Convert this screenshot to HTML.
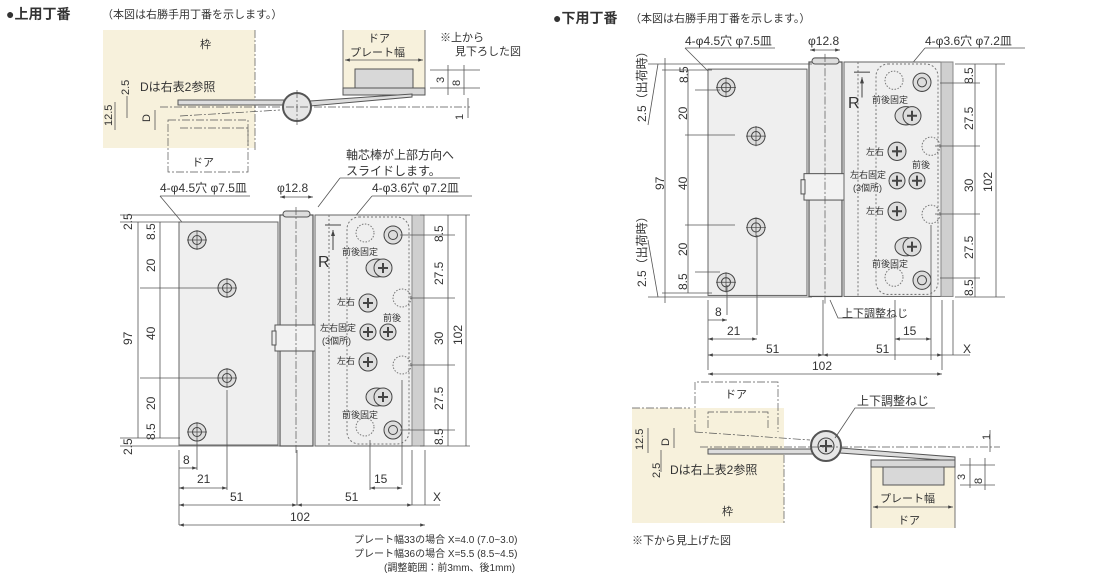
<!DOCTYPE html>
<html><head><meta charset="utf-8"><style>
body{margin:0;background:#fff;width:1096px;height:583px;overflow:hidden}
svg{display:block}
text{font-family:"Liberation Sans","Noto Sans CJK JP",sans-serif;fill:#333}
.s{font-size:11px}
.d{font-size:12px}
.ln{stroke:#555;stroke-width:0.8;fill:none}
.cl{stroke:#555;stroke-width:0.7;stroke-dasharray:8 2 2 2;fill:none}
</style></head><body>
<svg width="1096" height="583" viewBox="0 0 1096 583" xmlns="http://www.w3.org/2000/svg">
<defs>
<marker id="a" viewBox="0 0 6 6" refX="6" refY="3" markerWidth="6" markerHeight="6" orient="auto-start-reverse"><path d="M0,1 L6,3 L0,5z" fill="#444"/></marker>
<g id="hinge">
 <rect x="0" y="7" width="99" height="223" fill="#efefef" stroke="#666" stroke-width="1"/>
 <rect x="101" y="0" width="33" height="231" fill="#ececec" stroke="#555" stroke-width="1.2"/>
 <rect x="104" y="-4" width="27" height="6" rx="3" fill="#ddd" stroke="#555"/>
 <rect x="96" y="110" width="42" height="26" fill="#f2f2f2" stroke="#555"/>
 <rect x="93" y="116" width="4" height="14" fill="#eee" stroke="#555"/>
 <line x1="117" y1="-8" x2="117" y2="240" class="cl"/>
 <rect x="136" y="0" width="97" height="231" fill="#efefef" stroke="#666"/>
 <rect x="233" y="0" width="12" height="231" fill="#cfcfcf" stroke="#888"/>
 <line x1="150" y1="0" x2="150" y2="231" stroke="#777" stroke-dasharray="2 2"/>
 <rect x="168" y="2" width="62" height="227" rx="12" fill="none" stroke="#777" stroke-dasharray="2 2"/>
 <g fill="#ddd" stroke="#444">
  <circle cx="18" cy="25" r="9"/><circle cx="18" cy="25" r="4.5"/>
  <circle cx="48" cy="73" r="9"/><circle cx="48" cy="73" r="4.5"/>
  <circle cx="48" cy="163" r="9"/><circle cx="48" cy="163" r="4.5"/>
  <circle cx="18" cy="217" r="9"/><circle cx="18" cy="217" r="4.5"/>
  <circle cx="214" cy="20" r="9"/><circle cx="214" cy="20" r="4.5"/>
  <circle cx="214" cy="215" r="9"/><circle cx="214" cy="215" r="4.5"/>
  <ellipse cx="198" cy="53" rx="11" ry="9"/>
  <ellipse cx="198" cy="182" rx="11" ry="9"/>
  <circle cx="204" cy="53" r="9"/><circle cx="189" cy="88" r="9"/><circle cx="189" cy="117" r="8"/>
  <circle cx="209" cy="117" r="8"/><circle cx="189" cy="147" r="9"/><circle cx="204" cy="182" r="9"/>
 </g>
 <g stroke="#444" stroke-width="2">
  <path d="M199,53h10M204,48v10M184,88h10M189,83v10M184,117h10M189,112v10M204,117h10M209,112v10M184,147h10M189,142v10M199,182h10M204,177v10"/>
 </g>
 <g fill="none" stroke="#777" stroke-dasharray="1.5 1.5">
  <circle cx="186" cy="18" r="9"/><circle cx="223" cy="83" r="9"/><circle cx="223" cy="150" r="9"/><circle cx="186" cy="212" r="9"/>
 </g>
 <path d="M8,25h20M18,15v20M38,73h20M48,63v20M38,163h20M48,153v20M8,217h20M18,207v20" stroke="#444" stroke-width="0.7"/>
 <path d="M146,10h16" stroke="#444"/>
 <path d="M154,35v-20" stroke="#444" marker-end="url(#a)"/>
</g>
</defs>

<text x="6" y="19" style="font-size:14px;font-weight:bold">●上用丁番</text>
<text x="102" y="18" style="font-size:11px">（本図は右勝手用丁番を示します。）</text>
<text x="553" y="23" style="font-size:14px;font-weight:bold">●下用丁番</text>
<text x="630" y="22" style="font-size:11px">（本図は右勝手用丁番を示します。）</text>

<rect x="103" y="30" width="152" height="118" fill="#f7f1dc"/>
<line x1="255" y1="30" x2="255" y2="150" class="cl"/>
<text x="200" y="48" class="s">枠</text>
<text x="140" y="91" class="d">Dは右表2参照</text>
<rect x="343" y="30" width="82" height="63" fill="#f7f1dc"/>
<line x1="343" y1="30" x2="343" y2="93" class="ln"/><line x1="425" y1="30" x2="425" y2="93" class="ln"/>
<text x="368" y="42" class="s">ドア</text>
<text x="350" y="56" class="s">プレート幅</text>
<line x1="345" y1="60" x2="423" y2="60" class="ln" marker-start="url(#a)" marker-end="url(#a)"/>
<rect x="355" y="69" width="58" height="20" fill="#d8d8d8" stroke="#555"/>
<rect x="343" y="88" width="82" height="7" fill="#d8d8d8" stroke="#555"/>
<text x="440" y="41" class="s">※上から</text>
<text x="455" y="55" class="s">見下ろした図</text>
<rect x="178" y="100" width="106" height="5" fill="#ddd" stroke="#555"/>
<path d="M310,101 L412,94 L412,97 L310,106z" fill="#ddd" stroke="#555"/>
<circle cx="297" cy="107" r="14" fill="#e6e6e6" stroke="#555" stroke-width="2"/>
<line x1="160" y1="107" x2="470" y2="107" class="cl"/>
<line x1="297" y1="90" x2="297" y2="125" class="cl"/>
<path d="M168,120h80v52h-80z" class="cl"/>
<path d="M180,128h68v18" class="cl"/>
<path d="M180,116 L280,110" class="cl"/>
<text x="192" y="166" class="s">ドア</text>
<line x1="430" y1="70" x2="480" y2="70" class="ln"/><line x1="430" y1="88" x2="480" y2="88" class="ln"/>
<text x="0" y="0" class="s" transform="translate(444,83) rotate(-90)">3</text>
<text x="0" y="0" class="s" transform="translate(460,86) rotate(-90)">8</text>
<line x1="448" y1="65" x2="448" y2="95" class="ln"/><line x1="464" y1="65" x2="464" y2="95" class="ln"/>
<text x="0" y="0" class="s" transform="translate(463,120) rotate(-90)">1</text>
<line x1="468" y1="98" x2="468" y2="118" class="ln"/>
<text x="0" y="0" class="s" transform="translate(129,95) rotate(-90)">2.5</text>
<text x="0" y="0" class="s" transform="translate(112,126) rotate(-90)">12.5</text>
<text x="0" y="0" class="s" transform="translate(150,122) rotate(-90)">D</text>
<line x1="127" y1="96" x2="127" y2="118" class="ln"/>
<line x1="115" y1="102" x2="115" y2="130" class="ln"/>
<line x1="155" y1="110" x2="155" y2="130" class="ln"/>

<text x="346" y="159" class="d">軸芯棒が上部方向へ</text>
<text x="346" y="175" class="d">スライドします。</text>
<path d="M340,178h120M340,178 L318,207" class="ln"/>
<text x="160" y="192" class="d">4-φ4.5穴  φ7.5皿</text>
<path d="M160,196h90M160,196 L192,234" class="ln"/>
<text x="277" y="192" class="d">φ12.8</text>
<line x1="280" y1="197" x2="313" y2="197" class="ln" marker-start="url(#a)" marker-end="url(#a)"/>
<text x="372" y="192" class="d">4-φ3.6穴  φ7.2皿</text>
<path d="M372,196h100M372,196 L348,225" class="ln"/>
<use href="#hinge" x="179" y="215"/>
<text x="318" y="267" style="font-size:16px">R</text>
<g class="s" style="font-size:9px">
<text x="342" y="255">前後固定</text><text x="337" y="305">左右</text><text x="383" y="321">前後</text>
<text x="320" y="331">左右固定</text><text x="322" y="344">(3個所)</text><text x="337" y="364">左右</text><text x="342" y="418">前後固定</text>
</g>
<g class="d">
<text transform="translate(132,230) rotate(-90)">2.5</text>
<text transform="translate(155,240) rotate(-90)">8.5</text>
<text transform="translate(155,272) rotate(-90)">20</text>
<text transform="translate(132,345) rotate(-90)">97</text>
<text transform="translate(155,340) rotate(-90)">40</text>
<text transform="translate(155,410) rotate(-90)">20</text>
<text transform="translate(155,440) rotate(-90)">8.5</text>
<text transform="translate(132,455) rotate(-90)">2.5</text>
<text transform="translate(443,242) rotate(-90)">8.5</text>
<text transform="translate(443,285) rotate(-90)">27.5</text>
<text transform="translate(443,345) rotate(-90)">30</text>
<text transform="translate(462,345) rotate(-90)">102</text>
<text transform="translate(443,410) rotate(-90)">27.5</text>
<text transform="translate(443,445) rotate(-90)">8.5</text>
</g>
<path d="M120,215h160M120,222h60M120,438h60M120,446h160" class="ln"/>
<line x1="138" y1="222" x2="138" y2="438" class="ln"/>
<line x1="160" y1="222" x2="160" y2="438" class="ln"/>
<line x1="140" y1="288" x2="220" y2="288" class="ln"/><line x1="140" y1="378" x2="220" y2="378" class="ln"/>
<line x1="420" y1="215" x2="470" y2="215" class="ln"/><line x1="420" y1="446" x2="470" y2="446" class="ln"/>
<line x1="448" y1="215" x2="448" y2="446" class="ln"/><line x1="466" y1="215" x2="466" y2="446" class="ln"/>
<path d="M400,235h55M410,298h45M410,365h45M400,430h55" class="ln"/>
<path d="M179,450v75M197,440v30M227,390v100M297,450v55M412,450v55M425,450v55M370,440v50M402,380v105" class="ln"/>
<text x="183" y="464" class="d">8</text><line x1="179" y1="468" x2="197" y2="468" class="ln" marker-end="url(#a)"/>
<text x="197" y="483" class="d">21</text><line x1="179" y1="488" x2="227" y2="488" class="ln" marker-start="url(#a)" marker-end="url(#a)"/>
<text x="230" y="501" class="d">51</text><line x1="179" y1="505" x2="297" y2="505" class="ln" marker-start="url(#a)" marker-end="url(#a)"/>
<text x="345" y="501" class="d">51</text><line x1="297" y1="505" x2="412" y2="505" class="ln" marker-start="url(#a)" marker-end="url(#a)"/>
<text x="433" y="501" class="d">X</text><line x1="412" y1="505" x2="440" y2="505" class="ln"/>
<text x="374" y="483" class="d">15</text><line x1="370" y1="488" x2="402" y2="488" class="ln" marker-start="url(#a)" marker-end="url(#a)"/>
<text x="290" y="521" class="d">102</text><line x1="179" y1="525" x2="425" y2="525" class="ln" marker-start="url(#a)" marker-end="url(#a)"/>
<g style="font-size:10px"><text x="354" y="543">プレート幅33の場合 X=4.0 (7.0~3.0)</text>
<text x="354" y="557">プレート幅36の場合 X=5.5 (8.5~4.5)</text>
<text x="384" y="571">(調整範囲：前3mm、後1mm)</text></g>

<text x="685" y="45" class="d">4-φ4.5穴  φ7.5皿</text>
<path d="M685,48h90M685,48 L722,85" class="ln"/>
<text x="808" y="45" class="d">φ12.8</text>
<line x1="810" y1="50" x2="840" y2="50" class="ln" marker-start="url(#a)" marker-end="url(#a)"/>
<text x="925" y="45" class="d">4-φ3.6穴  φ7.2皿</text>
<path d="M925,48h100M925,48 L900,78" class="ln"/>
<use href="#hinge" transform="translate(708,62) scale(1,1.015)"/>
<text x="848" y="108" style="font-size:16px">R</text>
<g style="font-size:9px">
<text x="872" y="103">前後固定</text><text x="866" y="155">左右</text><text x="912" y="168">前後</text>
<text x="850" y="178">左右固定</text><text x="853" y="191">(3個所)</text><text x="866" y="214">左右</text><text x="872" y="267">前後固定</text>
</g>
<g class="d">
<text transform="translate(646,122) rotate(-90)">2.5（出荷時）</text>
<text transform="translate(646,287) rotate(-90)">2.5（出荷時）</text>
<text transform="translate(688,83) rotate(-90)">8.5</text>
<text transform="translate(687,120) rotate(-90)">20</text>
<text transform="translate(664,190) rotate(-90)">97</text>
<text transform="translate(687,190) rotate(-90)">40</text>
<text transform="translate(687,256) rotate(-90)">20</text>
<text transform="translate(687,290) rotate(-90)">8.5</text>
<text transform="translate(973,84) rotate(-90)">8.5</text>
<text transform="translate(973,130) rotate(-90)">27.5</text>
<text transform="translate(973,192) rotate(-90)">30</text>
<text transform="translate(992,192) rotate(-90)">102</text>
<text transform="translate(973,259) rotate(-90)">27.5</text>
<text transform="translate(973,296) rotate(-90)">8.5</text>
</g>
<path d="M648,64h164M662,70h50M662,293h50M648,297h164" class="ln"/>
<path d="M648,125 L658,64M648,240 L658,297" class="ln"/>
<line x1="665" y1="58" x2="665" y2="303" class="ln"/>
<line x1="688" y1="70" x2="688" y2="293" class="ln"/>
<path d="M685,135h50M685,225h50M695,90h25M695,272h25" class="ln"/>
<path d="M955,64h50M955,297h50M940,83h40M935,146h45M935,214h45M940,278h40" class="ln"/>
<line x1="975" y1="64" x2="975" y2="297" class="ln"/><line x1="996" y1="64" x2="996" y2="297" class="ln"/>
<path d="M708,300v70M727,285v30M757,235v100M823,300v55M942,300v70M953,300v55M895,300v60M931,225v135" class="ln"/>
<text x="715" y="316" class="d">8</text><line x1="708" y1="320" x2="727" y2="320" class="ln" marker-end="url(#a)"/>
<text x="727" y="335" class="d">21</text><line x1="708" y1="339" x2="757" y2="339" class="ln" marker-start="url(#a)" marker-end="url(#a)"/>
<text x="766" y="353" class="d">51</text><line x1="708" y1="355" x2="823" y2="355" class="ln" marker-start="url(#a)" marker-end="url(#a)"/>
<text x="876" y="353" class="d">51</text><line x1="823" y1="355" x2="942" y2="355" class="ln" marker-start="url(#a)" marker-end="url(#a)"/>
<text x="963" y="353" class="d">X</text><line x1="942" y1="355" x2="970" y2="355" class="ln"/>
<text x="903" y="335" class="d">15</text><line x1="895" y1="339" x2="931" y2="339" class="ln" marker-start="url(#a)" marker-end="url(#a)"/>
<text x="812" y="370" class="d">102</text><line x1="708" y1="374" x2="942" y2="374" class="ln" marker-start="url(#a)" marker-end="url(#a)"/>
<text x="842" y="317" style="font-size:11px">上下調整ねじ</text>
<path d="M830,300 L838,318 H892" class="ln"/>

<rect x="632" y="408" width="152" height="115" fill="#f7f1dc"/>
<line x1="784" y1="455" x2="784" y2="525" class="cl"/>
<line x1="632" y1="408" x2="690" y2="408" class="cl"/>
<path d="M695,432v-50h83v50" class="cl"/>
<path d="M708,428v-16h60v16" class="cl"/>
<text x="725" y="398" class="s">ドア</text>
<path d="M695,432 L810,440" class="cl"/>
<rect x="708" y="449" width="110" height="5" fill="#ddd" stroke="#555"/>
<path d="M840,448 L955,457 L955,461 L840,453z" fill="#ddd" stroke="#555"/>
<circle cx="826" cy="446" r="15" fill="#e6e6e6" stroke="#555" stroke-width="2"/>
<circle cx="826" cy="446" r="8" fill="#ddd" stroke="#444"/>
<path d="M820,446h12M826,440v12" stroke="#444" stroke-width="2"/>
<line x1="700" y1="447" x2="1000" y2="447" class="cl"/>
<text x="857" y="405" class="d">上下調整ねじ</text>
<path d="M935,408H855L835,438" class="ln"/>
<rect x="871" y="460" width="84" height="68" fill="#f7f1dc"/>
<rect x="883" y="467" width="61" height="18" fill="#d8d8d8" stroke="#555"/>
<rect x="871" y="460" width="84" height="7" fill="#d8d8d8" stroke="#555"/>
<line x1="871" y1="467" x2="871" y2="528" class="ln"/><line x1="955" y1="467" x2="955" y2="528" class="ln"/>
<text x="880" y="502" class="s">プレート幅</text>
<line x1="873" y1="507" x2="953" y2="507" class="ln" marker-start="url(#a)" marker-end="url(#a)"/>
<text x="898" y="524" class="s">ドア</text>
<text x="670" y="474" class="d">Dは右上表2参照</text>
<text x="722" y="515" class="s">枠</text>
<text x="632" y="544" class="s">※下から見上げた図</text>
<g class="s">
<text transform="translate(643,450) rotate(-90)">12.5</text>
<text transform="translate(669,446) rotate(-90)">D</text>
<text transform="translate(660,478) rotate(-90)">2.5</text>
<text transform="translate(990,440) rotate(-90)">1</text>
<text transform="translate(965,480) rotate(-90)">3</text>
<text transform="translate(982,484) rotate(-90)">8</text>
</g>
<path d="M648,428v25M674,428v20M661,450v22M990,430v22M960,465h35M960,485h35M970,458v30M985,458v32" class="ln"/>
</svg>
</body></html>
